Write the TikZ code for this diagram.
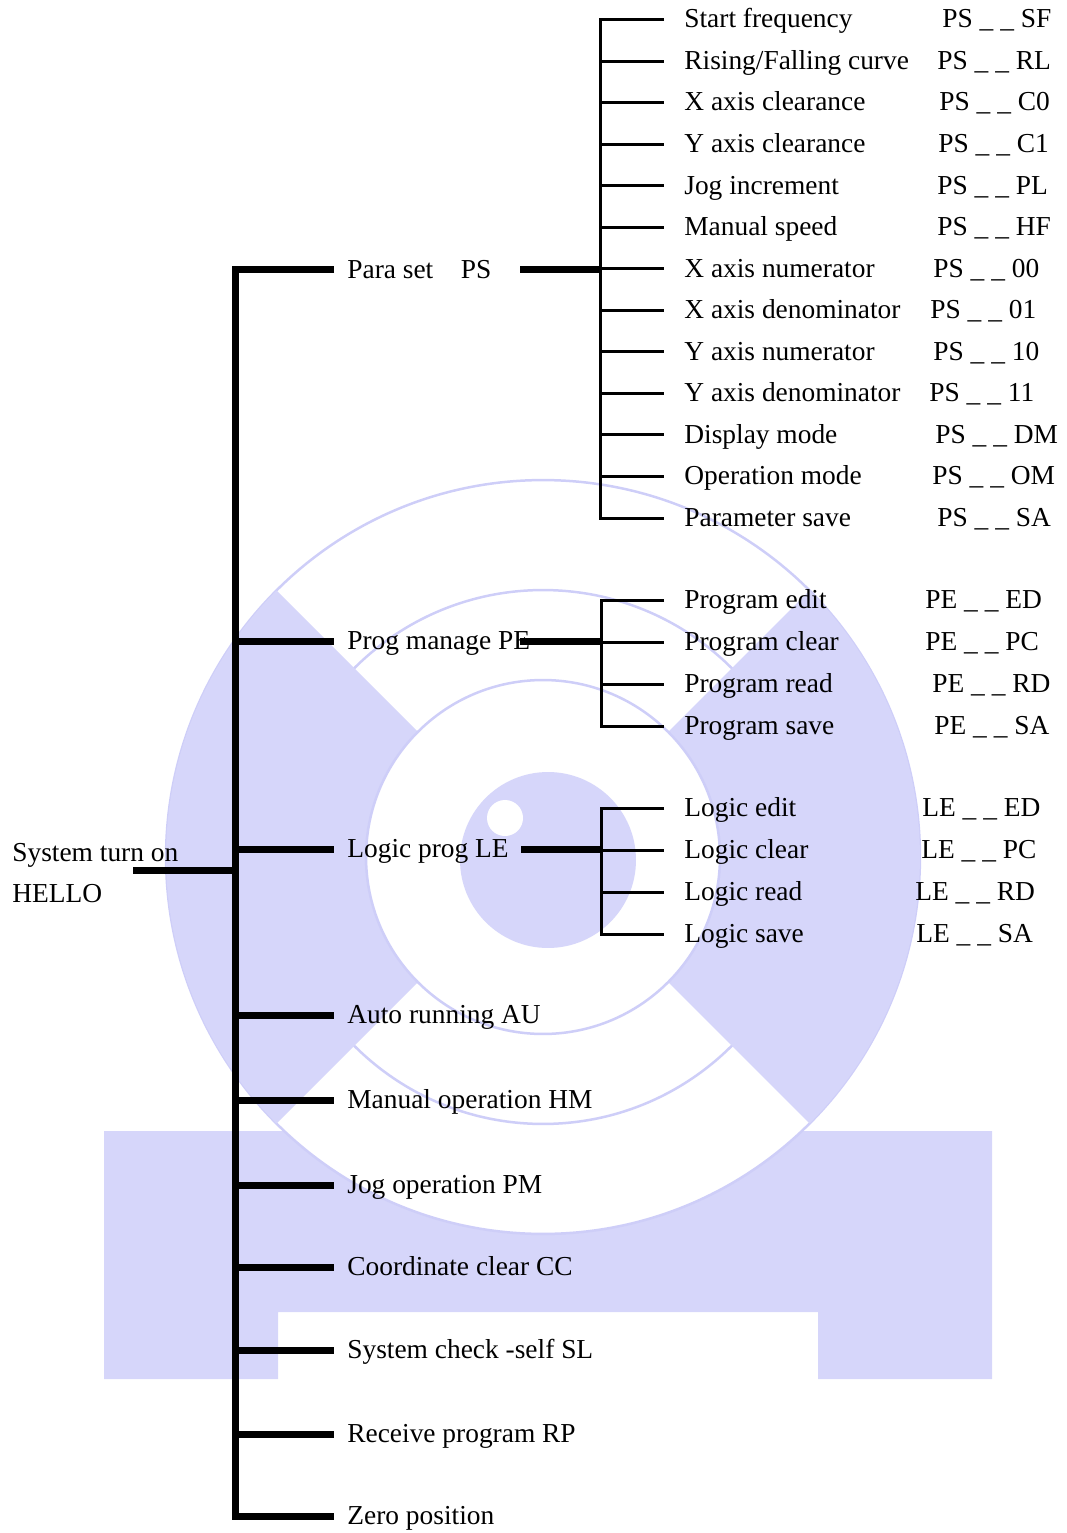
\documentclass[tikz,border=0pt]{standalone}
\usepackage{fontspec}
\setmainfont{Liberation Serif}
\usepackage{tikz}
\usetikzlibrary{positioning, calc}

\definecolor{wmblue}{RGB}{214,214,250}
\definecolor{wmline}{RGB}{206,206,248}

\begin{document}
\begin{tikzpicture}[x=0.02cm, y=-0.02cm,
  font=\fontsize{15.6}{18}\selectfont,
  trunk/.style={line width=0.14cm},
  tick/.style={line width=0.06cm},
  item/.style={anchor=west, inner xsep=0pt, inner ysep=0pt, text height=1.05em, text depth=0.1em},
  sub/.style={item, inner xsep=0.4cm},
  top/.style={item, inner xsep=0.26cm}]
  \useasboundingbox (0,0) rectangle (1066,1533);

  % watermark
  \coordinate (wmc) at (543,857);
  \fill[wmblue] (104,1131) -- (992,1131) -- (992,1379) -- (818,1379) -- (818,1312)
    -- (278,1312) -- (278,1379) -- (104,1379) -- cycle;
  \fill[white] (wmc) -- ++(225:7.54cm) arc[start angle=225, end angle=315, radius=7.54cm] -- cycle;
  \foreach \r in {7.54,5.34} {
    \draw[wmline, line width=0.05cm] (wmc) circle[radius=\r cm];
  }
  \foreach \a in {135,-45} {
    \fill[wmblue] (wmc) -- ++(\a:7.54cm) arc[start angle=\a, delta angle=90, radius=7.54cm] -- cycle;
  }
  \fill[white] (wmc) circle[radius=3.54cm];
  \draw[wmline, line width=0.05cm] (wmc) circle[radius=3.54cm];
  \fill[wmblue] (548,860) circle[radius=1.76cm];
  \fill[white] (505,818) circle[radius=0.36cm];

  % root
  \node[anchor=base west, inner sep=0pt] (root) at (12,861) {System turn on};
  \node[anchor=base west, inner sep=0pt] (hello) at (12,902) {HELLO};
  \coordinate (rootstub) at (133,870);
  \coordinate (trunkx) at (235,0);
  \coordinate (psbus) at (600,0);
  \coordinate (pebus) at (601,0);
  \coordinate (lebus) at (601,0);

  % main level
  \node[top] (ps) at (334,270) {Para set\quad PS};
  \foreach \nm/\y/\txt in {pe/641/Prog manage PE, le/849/Logic prog LE,
      au/1015/Auto running AU, hm/1100/Manual operation HM, pm/1185/Jog operation PM,
      cc/1267/Coordinate clear CC, sl/1350/System check -self SL, rp/1434/Receive program RP}
    \node[top] (\nm) at (334,\y) {\txt};
  \node[top] (zero) at (334,1516) {Zero position};

  \draw[trunk] (ps.west) -- (ps.west -| trunkx) -- (zero.west -| trunkx) -- (zero.west);
  \foreach \nm in {pe,le,au,hm,pm,cc,sl,rp}
    \draw[trunk] (\nm.west -| trunkx) -- (\nm.west);
  \draw[trunk] (rootstub) -- (rootstub -| trunkx);

  % PS
  \foreach \txt/\code/\cx [count=\i] in {Start frequency/SF/942, {Rising/Falling curve}/RL/937,
      X axis clearance/C0/939, Y axis clearance/C1/938, Jog increment/PL/937,
      Manual speed/HF/937, X axis numerator/00/933, X axis denominator/01/930,
      Y axis numerator/10/933, Y axis denominator/11/929, Display mode/DM/935,
      Operation mode/OM/932, Parameter save/SA/937} {
    \node[sub] (ps\i) at (664,{19.5+41.55*(\i-1)}) {\txt};
    \node[item] (psc\i) at (\cx,{19.5+41.55*(\i-1)}) {PS \_ \_ \code};
  }
  \draw[tick] (ps1.west) -- (ps1.west -| psbus) -- (ps13.west -| psbus) -- (ps13.west);
  \foreach \i in {2,...,12}
    \draw[tick] (ps\i.west -| psbus) -- (ps\i.west);
  \coordinate (psin) at (520,270);
  \draw[trunk] (psin) -- (psin -| psbus);

  % PE
  \foreach \txt/\code/\cx [count=\i] in {Program edit/ED/925, Program clear/PC/925,
      Program read/RD/932, Program save/SA/934} {
    \node[sub] (pe\i) at (664,{600+42*(\i-1)}) {\txt};
    \node[item] (pec\i) at (\cx,{600+42*(\i-1)}) {PE \_ \_ \code};
  }
  \draw[tick] (pe1.west) -- (pe1.west -| pebus) -- (pe4.west -| pebus) -- (pe4.west);
  \foreach \i in {2,3}
    \draw[tick] (pe\i.west -| pebus) -- (pe\i.west);
  \coordinate (pein) at (520,641);
  \draw[trunk] (pein) -- (pein -| pebus);

  % LE
  \foreach \txt/\code/\cx [count=\i] in {Logic edit/ED/922, Logic clear/PC/921,
      Logic read/RD/915, Logic save/SA/916} {
    \node[sub] (le\i) at (664,{808+42*(\i-1)}) {\txt};
    \node[item] (lec\i) at (\cx,{808+42*(\i-1)}) {LE \_ \_ \code};
  }
  \draw[tick] (le1.west) -- (le1.west -| lebus) -- (le4.west -| lebus) -- (le4.west);
  \foreach \i in {2,3}
    \draw[tick] (le\i.west -| lebus) -- (le\i.west);
  \coordinate (lein) at (521,849);
  \draw[trunk] (lein) -- (lein -| lebus);
\end{tikzpicture}
\end{document}
